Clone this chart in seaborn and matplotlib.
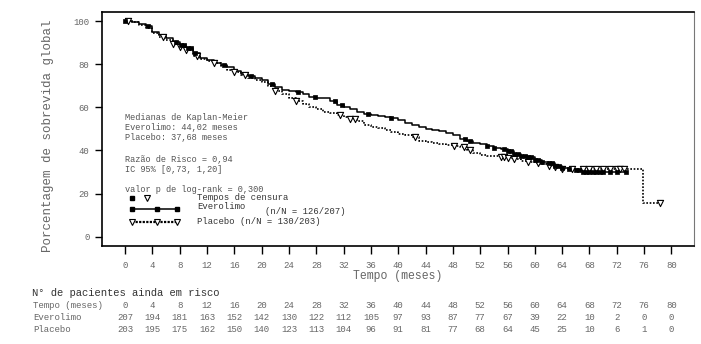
import numpy as np
import pandas as pd
import matplotlib
matplotlib.use("Agg")
import matplotlib.pyplot as plt
import matplotlib.transforms as mtransforms
from matplotlib.lines import Line2D
import seaborn as sns

# ---------------- data ----------------
evero_t = [0, 1, 2, 3, 4, 5, 6, 7, 8, 9, 10, 11, 12, 13, 14, 15, 16, 17, 18, 19,
           20, 21, 22, 23, 24, 25, 26, 27, 28, 30, 31, 32, 33, 34, 35, 36, 37, 38,
           39, 40, 41, 42, 43, 44, 45, 46, 47, 48, 49, 50, 51, 52, 53, 54, 55, 56,
           57, 58, 59, 60, 61, 62, 63, 64, 65, 66, 67, 73.3]
evero_s = [100, 99.5, 98.5, 97.5, 95, 93.5, 92, 90.5, 89, 87.5, 85, 83, 82, 80.5,
           79.5, 78.5, 77, 75.5, 74.5, 73.5, 72.5, 71, 69.5, 68, 67.5, 67, 66, 65,
           64.5, 63, 61, 60, 59, 58, 57, 56.5, 56, 55.5, 55, 54, 52.5, 52, 51, 50,
           49.5, 49, 48, 47, 45.5, 44.5, 43.5, 43, 42, 41, 40.5, 39.5, 38.5, 37.5,
           37, 35.5, 34.5, 34, 33, 32, 31.5, 31, 30.2, 30.2]
placebo_t = [0, 1, 2, 3, 4, 5, 6, 7, 8, 9, 10, 11, 12, 13, 14, 15, 16, 17, 18, 19,
             20, 21, 22, 23, 24, 25, 26, 27, 28, 29, 30, 31, 32, 33, 34, 35, 36, 37,
             38, 39, 40, 41, 42, 43, 44, 45, 46, 47, 48, 49, 50, 51, 52, 53, 55, 56,
             57, 58, 59, 60, 61, 62, 63, 64, 75.8, 78.3]
placebo_s = [100, 99.5, 98, 97, 94.5, 92.5, 91, 89.5, 88, 86.5, 84, 82.5, 81.5, 80.5,
             79, 77.5, 76.5, 75, 73.5, 72.5, 71.5, 70, 67.5, 66, 64.5, 63, 61.5, 60,
             59, 58, 57.5, 56.5, 55.5, 54.5, 53.5, 52, 51, 50.5, 49.5, 48.5, 47.5, 47,
             46, 44.5, 44, 43.5, 43, 42.5, 42, 41.5, 40, 39, 38, 37.5, 37, 36.5, 36,
             35, 34.5, 34, 33.5, 33, 32.2, 31.3, 15.8, 15.8]

evero_cens = [0, 3.3, 7.5, 8.2, 8.7, 9.2, 9.7, 10.2, 14.5, 18.5, 21.5, 25.3, 27.8,
              30.7, 31.7, 35.6, 39, 49.8, 50.5, 53, 54, 55.5, 56, 56.5, 57, 57.5, 58,
              58.5, 59, 59.5, 60, 60.5, 61, 62, 62.5, 63, 63.5, 64, 65, 66, 66.5, 67,
              67.5, 68, 68.5, 69, 69.5, 70, 71, 72, 73.3]
placebo_cens = [0.5, 5.5, 7, 8, 9, 10.5, 13, 16, 17.5, 22, 25, 31.5, 33, 33.7, 42.5,
                48.2, 49.6, 50.5, 55, 55.5, 56, 57, 59, 60.5, 62, 63, 64, 65.5, 67,
                68, 69, 70, 71, 72, 72.5, 73, 78.3]

risk_times = [0, 4, 8, 12, 16, 20, 24, 28, 32, 36, 40, 44, 48, 52, 56, 60, 64, 68, 72, 76, 80]
risk_evero = [207, 194, 181, 163, 152, 142, 130, 122, 112, 105, 97, 93, 87, 77, 67, 39, 22, 10, 2, 0, 0]
risk_placebo = [203, 195, 175, 162, 150, 140, 123, 113, 104, 96, 91, 81, 77, 68, 64, 45, 25, 10, 6, 1, 0]

y_ticks = [0, 20, 40, 60, 80, 100]
info_lines = ["Medianas de Kaplan-Meier", "Everolimo: 44,02 meses", "Placebo: 37,68 meses",
              "Razão de Risco = 0,94", "IC 95% [0,73, 1,20]", "valor p de log-rank = 0,300"]


def step_value(times, surv, t):
    idx = np.searchsorted(np.asarray(times), np.asarray(t), side="right") - 1
    return np.asarray(surv)[np.clip(idx, 0, len(surv) - 1)]


# ---------------- figure ----------------
sns.set_style("ticks")
plt.rcParams["font.family"] = ["Liberation Mono", "DejaVu Sans Mono"]
W, H = 701, 344
fig = plt.figure(figsize=(W / 100, H / 100), dpi=100)
L, R, T, B = 102, 694, 12, 245.7
ax = fig.add_axes([L / W, 1 - B / H, (R - L) / W, (B - T) / H])

txtc = "#666666"
df_e = pd.DataFrame({"t": evero_t, "s": evero_s})
df_p = pd.DataFrame({"t": placebo_t, "s": placebo_s})
sns.lineplot(data=df_e, x="t", y="s", estimator=None, sort=False, ax=ax,
             drawstyle="steps-post", color="black", lw=1.1)
sns.lineplot(data=df_p, x="t", y="s", estimator=None, sort=False, ax=ax,
             drawstyle="steps-post", color="black", lw=1.2, linestyle=(0, (1, 1)))

ce = pd.DataFrame({"t": evero_cens, "s": step_value(evero_t, evero_s, evero_cens)})
cp = pd.DataFrame({"t": placebo_cens, "s": step_value(placebo_t, placebo_s, placebo_cens)})
sns.scatterplot(data=cp, x="t", y="s", marker="v", s=20, facecolor="white",
                edgecolor="black", linewidth=0.8, ax=ax, zorder=3)
sns.scatterplot(data=ce, x="t", y="s", marker="s", s=11, color="black",
                edgecolor="black", linewidth=0.5, ax=ax, zorder=4)

ax.set_xlim(-3.37, 83.3)
ax.set_ylim(-4.2, 104.2)
ax.set_xticks(risk_times)
ax.set_yticks(y_ticks)
ax.tick_params(axis="both", labelsize=6.5, labelcolor=txtc, color="black",
               length=5, width=1, direction="out", pad=4)
ax.tick_params(axis="x", length=6, pad=5)
for side in ["left", "bottom", "top"]:
    ax.spines[side].set_color("black")
    ax.spines[side].set_linewidth(1.2)
ax.spines["right"].set_color("#777777")
ax.spines["right"].set_linewidth(0.8)
ax.set_xlabel("Tempo (meses)", fontsize=8.3, color=txtc, labelpad=0)
ax.set_ylabel("")
fig.text(48 / W, 1 - 136 / H, "Porcentagem de sobrevida global", rotation=90,
         fontsize=9, color=txtc, ha="center", va="center")


def ax_pt(px, py):
    return ((px - L) / (R - L), (B - py) / (B - T))


# info text
info_y = [117, 127.5, 138, 159, 169.5, 189]
for s, py in zip(info_lines, info_y):
    ax.text(*ax_pt(125, py), s, transform=ax.transAxes, fontsize=6.2,
            color="#555555", ha="left", va="center")

# custom legend
leg_c = "#333333"
lx = [132, 157, 177]
x0, y0 = ax_pt(132, 198)
x1, _ = ax_pt(147, 198)
ax.add_line(Line2D([x0], [y0], marker="s", ms=3.5, color="black", ls="none",
                   transform=ax.transAxes))
ax.add_line(Line2D([x1], [y0], marker="v", ms=5, mfc="white", mec="black", mew=0.8,
                   ls="none", transform=ax.transAxes))
ax.text(*ax_pt(197, 198), "Tempos de censura", transform=ax.transAxes,
        fontsize=6.4, color=leg_c, va="center")
xs = [ax_pt(p, 209)[0] for p in lx]
ye = ax_pt(132, 209)[1]
ax.add_line(Line2D(xs, [ye] * 3, marker="s", ms=3.5, color="black", lw=1.1,
                   transform=ax.transAxes))
ax.text(*ax_pt(197, 206.5), "Everolimo", transform=ax.transAxes,
        fontsize=6.4, color=leg_c, va="center")
ax.text(*ax_pt(265, 211.5), "(n/N = 126/207)", transform=ax.transAxes,
        fontsize=6.4, color=leg_c, va="center")
yp = ax_pt(132, 222)[1]
ax.add_line(Line2D(xs, [yp] * 3, marker="v", ms=5, mfc="white", mec="black", mew=0.8,
                   color="black", lw=1.6, ls=(0, (1, 0.6)), transform=ax.transAxes))
ax.text(*ax_pt(197, 222), "Placebo (n/N = 130/203)", transform=ax.transAxes,
        fontsize=6.4, color=leg_c, va="center")

# number-at-risk table
trans = mtransforms.blended_transform_factory(ax.transData, fig.transFigure)
fig.text(32 / W, 1 - 292.5 / H, "N° de pacientes ainda em risco", fontsize=7.6,
         color="#333333", va="center")
rows = [("Tempo (meses)", risk_times, 305), ("Everolimo", risk_evero, 317.5),
        ("Placebo", risk_placebo, 330)]
for label, vals, py in rows:
    fig.text(33 / W, 1 - py / H, label, fontsize=6.5, color=txtc, va="center")
    for t, v in zip(risk_times, vals):
        fig.text(t, 1 - py / H, str(v), transform=trans, fontsize=6.5,
                 color=txtc, ha="center", va="center")

fig.savefig("out.png", dpi=100)
